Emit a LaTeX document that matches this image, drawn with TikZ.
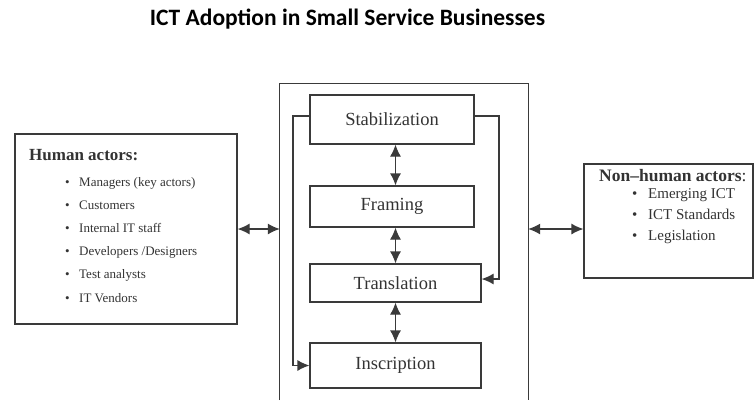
\documentclass[tikz,border=0pt]{standalone}
\usepackage{fontspec}
\setmainfont{Liberation Serif}
\newfontfamily\titlefont{Carlito}
\usetikzlibrary{arrows.meta}
\definecolor{ink}{HTML}{333333}
\definecolor{linec}{HTML}{3A3A3A}
\begin{document}
\begin{tikzpicture}[x=1pt,y=-1pt,
  boxline/.style={draw=linec,line width=1.2pt},
  stage/.style={boxline,inner sep=0pt,font=\fontsize{18.5}{22}\selectfont,text=ink},
  conn/.style={draw=linec,line width=1.2pt},
  tip/.style={arrows={-{Latex[length=12pt,width=11pt]}}},
  dbl/.style={conn,{Latex[length=12pt,width=11pt]}-{Latex[length=12pt,width=11pt]}},
  sgl/.style={conn,-{Latex[length=12pt,width=11pt]}},
  item/.style={anchor=base west,inner sep=0pt,text=ink},
]
\useasboundingbox (0,0) rectangle (754,400);
\node[font=\titlefont\bfseries\fontsize{23.5}{28}\selectfont] (title) at (347.5,19) {ICT Adoption in Small Service Businesses};

% outer frame (bottom edge outside picture)
\node[minimum width=248pt,minimum height=316pt,inner sep=0pt] (outer) at (404,242) {};
\draw[boxline] (outer.south west) -- (outer.north west) -- (outer.north east) -- (outer.south east);

% stages
\node[stage,minimum width=164pt,minimum height=49pt] (stab) at (392,119.5) {Stabilization};
\node[stage,minimum width=164pt,minimum height=41pt] (fram) at (392,206.5) {Framing};
\node[stage,minimum width=171pt,minimum height=38pt] (trans) at (395.5,283) {Translation};
\node[stage,minimum width=171pt,minimum height=45pt] (insc) at (395.5,365.5) {Inscription};

\draw[dbl] (trans.north |- stab.south) -- (trans.north |- fram.north);
\draw[dbl] (trans.north |- fram.south) -- (trans.north);
\draw[dbl] (trans.south) -- (insc.north);

\coordinate (lx) at (293,0);
\coordinate (rx) at (499,0);
\draw[sgl] ([yshift=3.5pt]stab.west) -- ([yshift=3.5pt]stab.west -| lx) -- (lx |- insc.west) -- (insc.west);
\draw[sgl] ([yshift=3.5pt]stab.east) -- ([yshift=3.5pt]stab.east -| rx) -- ([yshift=4pt]trans.east -| rx) -- ([yshift=4pt]trans.east);

% human actors
\node[boxline,minimum width=222pt,minimum height=190pt,inner sep=0pt] (human) at (126,229) {};
\node[item,font=\bfseries\fontsize{17}{20}\selectfont] (hhead) at (29,160.5) {Human actors:};
\foreach \t [count=\i] in {Managers (key actors),Customers,Internal IT staff,Developers /Designers,Test analysts,IT Vendors}{
  \node[item,font=\fontsize{13}{16}\selectfont] (hb\i) at (65,{186+23.2*(\i-1)}) {\textbullet};
  \node[item,font=\fontsize{13}{16}\selectfont] (h\i) at (79,{186+23.2*(\i-1)}) {\t};
}

% non-human actors
\node[boxline,minimum width=169pt,minimum height=114pt,inner sep=0pt] (nonh) at (668.5,221) {};
\node[item,font=\fontsize{17.5}{20}\selectfont] (nhead) at (599,181) {\textbf{Non–human actors}:};
\foreach \t [count=\i] in {Emerging ICT,ICT Standards,Legislation}{
  \node[item,font=\fontsize{15}{18}\selectfont] (nb\i) at (632,{198.5+21*(\i-1)}) {\textbullet};
  \node[item,font=\fontsize{15}{18}\selectfont] (n\i) at (648,{198.5+21*(\i-1)}) {\t};
}

\draw[dbl] (human.east) -- (human.east -| outer.west);
\draw[dbl] (human.east -| outer.east) -- (human.east -| nonh.west);
\end{tikzpicture}
\end{document}
